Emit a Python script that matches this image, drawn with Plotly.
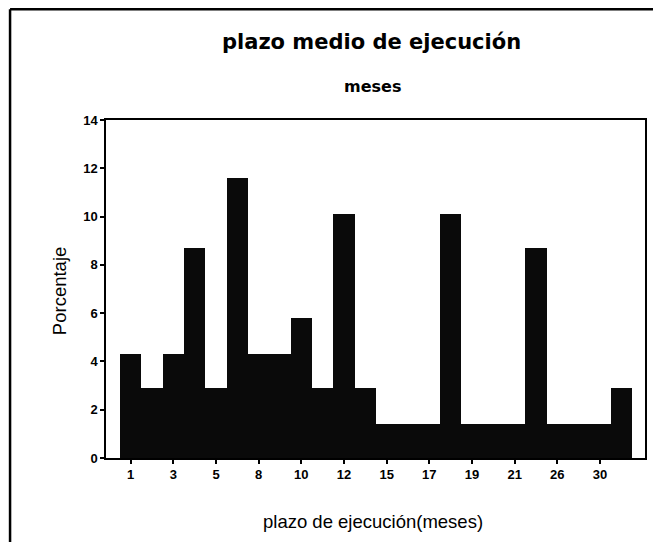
import plotly.graph_objects as go

# meses (categorias del eje x); solo una de cada dos lleva etiqueta
meses = ['1', '2', '3', '4', '5', '6', '8', '9', '10', '11', '12', '14',
         '15', '16', '17', '18', '19', '20', '21', '24', '26', '28', '30', '36']
porcentaje = [4.3, 2.9, 4.3, 8.7, 2.9, 11.6, 4.3, 4.3, 5.8, 2.9, 10.1, 2.9,
              1.4, 1.4, 1.4, 10.1, 1.4, 1.4, 1.4, 8.7, 1.4, 1.4, 1.4, 2.9]
etiquetas = ['<b>%s</b>' % m for m in meses[::2]]
yticks = [0, 2, 4, 6, 8, 10, 12, 14]

FONT = 'Liberation Sans, Arial, sans-serif'
BOLD = 'DejaVu Sans, Verdana, sans-serif'

fig = go.Figure()
fig.add_trace(go.Bar(
    x=list(range(len(meses))),
    y=porcentaje,
    marker=dict(color='#0a0a0a', line=dict(width=0)),
    width=1.0,
    showlegend=False,
))

fig.update_layout(
    width=661, height=542,
    margin=dict(l=98, r=24, t=112, b=92),
    paper_bgcolor='white', plot_bgcolor='white',
    font=dict(family=FONT, color='black', size=12),
    bargap=0,
    annotations=[
        dict(text='<b>plazo medio de ejecución</b>', xref='paper', yref='paper',
             x=0.492, y=1.231, xanchor='center', yanchor='middle',
             showarrow=False, font=dict(size=21, family=BOLD)),
        dict(text='<b>meses</b>', xref='paper', yref='paper',
             x=0.495, y=1.098, xanchor='center', yanchor='middle',
             showarrow=False, font=dict(size=16, family=BOLD)),
        dict(text='plazo de ejecución(meses)', xref='paper', yref='paper',
             x=0.495, y=-0.189, xanchor='center', yanchor='middle',
             showarrow=False, font=dict(size=18.5)),
        dict(text='Porcentaje', xref='paper', yref='paper', textangle=-90,
             x=-0.087, y=0.494, xanchor='center', yanchor='middle',
             showarrow=False, font=dict(size=18.5)),
    ],
    shapes=[
        dict(type='line', xref='paper', yref='paper', x0=-0.178, x1=-0.178,
             y0=-0.3, y1=1.328, line=dict(color='black', width=2.5)),
        dict(type='line', xref='paper', yref='paper', x0=-0.178, x1=1.05,
             y0=1.328, y1=1.328, line=dict(color='black', width=2.5)),
    ],
)

fig.update_xaxes(
    range=[-1.156, 24.11],
    tickmode='array',
    tickvals=list(range(0, len(meses), 2)),
    ticktext=etiquetas,
    ticks='outside', ticklen=4, tickwidth=2, tickcolor='black',
    showline=True, linecolor='black', linewidth=1.5, mirror=True,
    showgrid=False, zeroline=False,
    tickfont=dict(size=13),
)

fig.update_yaxes(
    range=[0, 14],
    tickmode='array',
    tickvals=yticks,
    ticktext=['<b>%d</b>' % v for v in yticks],
    ticks='outside', ticklen=4, tickwidth=2, tickcolor='black',
    showline=True, linecolor='black', linewidth=1.5, mirror=True,
    showgrid=False, zeroline=False,
    tickfont=dict(size=13),
)

fig.write_html("out.html")
